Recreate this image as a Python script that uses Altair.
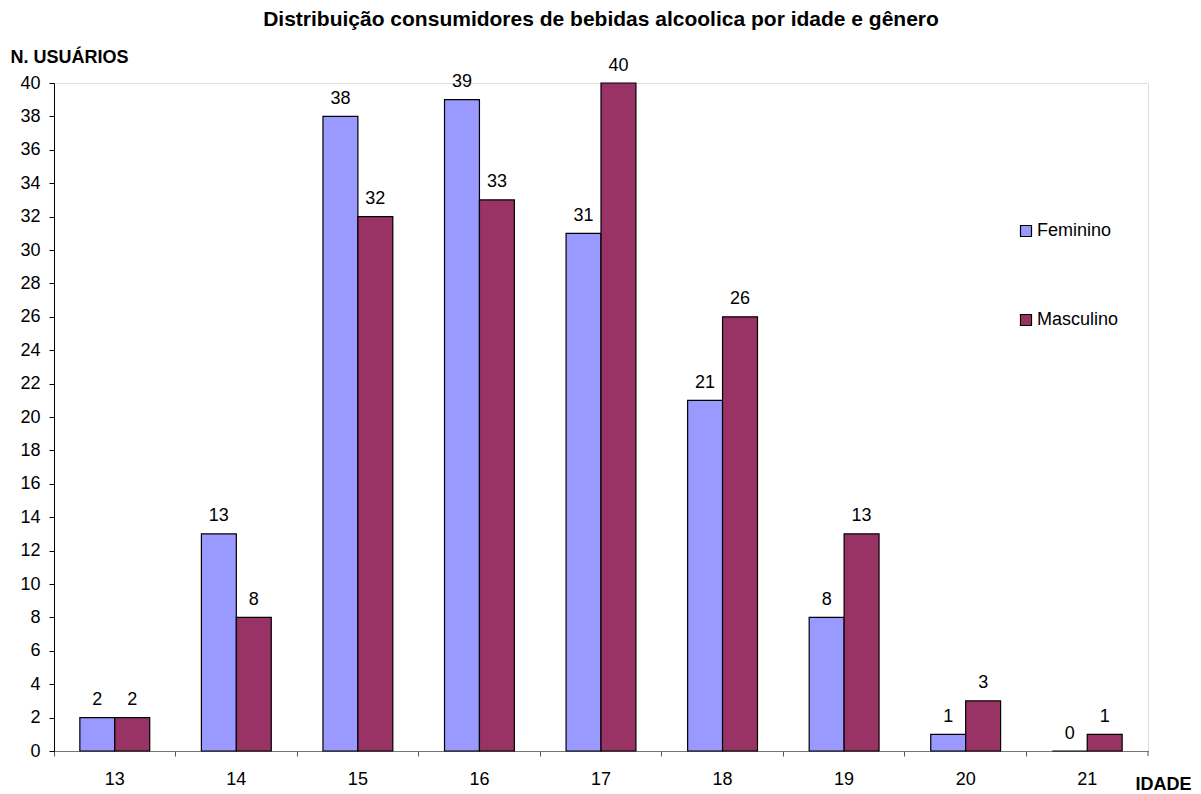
import altair as alt
import pandas as pd

idades = ["13", "14", "15", "16", "17", "18", "19", "20", "21"]
feminino = [2, 13, 38, 39, 31, 21, 8, 1, 0]
masculino = [2, 8, 32, 33, 40, 26, 13, 3, 1]
generos = ["Feminino", "Masculino"]
cores = ["#9999FF", "#993366"]
y_ticks = list(range(0, 41, 2))

rows = []
for i, a in enumerate(idades):
    rows.append({"idade": a, "genero": "Feminino", "n": feminino[i]})
    rows.append({"idade": a, "genero": "Masculino", "n": masculino[i]})
df = pd.DataFrame(rows)

W, H = 1094, 668
FONT = "Liberation Sans"
FS = 18

x_axis = alt.Axis(
    title="IDADE",
    titleAngle=0,
    titleAlign="left",
    titleBaseline="alphabetic",
    titleX=1081,
    titleY=38,
    titleFont=FONT,
    titleFontSize=FS,
    titleFontWeight="bold",
    titleColor="black",
    labelAngle=0,
    labelFont=FONT,
    labelFontSize=FS,
    labelColor="black",
    labelPadding=14,
    bandPosition=0,
    tickSize=5,
    tickColor="#555555",
    domainColor="#777777",
    grid=False,
)

y_axis = alt.Axis(
    values=y_ticks,
    labelOverlap=False,
    title="N. USUÁRIOS",
    titleAngle=0,
    titleAlign="left",
    titleBaseline="alphabetic",
    titleX=-44,
    titleY=-21,
    titleFont=FONT,
    titleFontSize=FS,
    titleFontWeight="bold",
    titleColor="black",
    labelFont=FONT,
    labelFontSize=FS,
    labelColor="black",
    labelPadding=9,
    tickSize=5,
    tickColor="black",
    domainColor="black",
    grid=False,
)

x_enc = alt.X("idade:N", sort=idades, scale=alt.Scale(paddingInner=0, paddingOuter=0), axis=x_axis)
xoff = alt.XOffset("genero:N", sort=generos, scale=alt.Scale(paddingOuter=0.74, paddingInner=0))
y_enc = alt.Y("n:Q", scale=alt.Scale(domain=[0, 40], nice=False), axis=y_axis)

color_enc = alt.Color(
    "genero:N",
    sort=generos,
    scale=alt.Scale(domain=generos, range=cores),
    legend=alt.Legend(
        title=None,
        orient="none",
        legendX=963,
        legendY=139,
        symbolType="square",
        symbolSize=121,
        symbolStrokeColor="black",
        symbolStrokeWidth=1.2,
        symbolOpacity=1,
        labelFont=FONT,
        labelFontSize=FS,
        labelColor="black",
        labelOffset=2,
        rowPadding=71,
    ),
)

bars = alt.Chart(df).mark_bar(stroke="black", strokeWidth=1.2, opacity=1).encode(
    x=x_enc, xOffset=xoff, y=y_enc, color=color_enc
)

labels = alt.Chart(df).mark_text(
    font=FONT, fontSize=FS, color="black", baseline="alphabetic", dy=-12.5
).encode(
    x=x_enc,
    xOffset=xoff,
    y=y_enc,
    text="n:Q",
)

end_tick = alt.Chart(pd.DataFrame({"k": [0]})).mark_rule(color="#555555", strokeWidth=1).encode(
    x=alt.value(W), y=alt.value(H), y2=alt.value(H + 5)
)

chart = (
    alt.layer(bars, labels, end_tick)
    .properties(
        width=W,
        height=H,
        title=alt.TitleParams(
            "Distribuição consumidores de bebidas alcoolica por idade e gênero",
            font=FONT,
            fontSize=21,
            fontWeight="bold",
            color="black",
            anchor="middle",
            offset=18,
        ),
        autosize=alt.AutoSizeParams(type="none"),
        padding={"left": 46, "top": 75, "right": 45, "bottom": 50},
    )
    .configure_view(stroke="transparent", strokeWidth=0)
    .configure(background="white")
)

chart.save("out.html", embed_options={"renderer": "svg", "actions": False})
